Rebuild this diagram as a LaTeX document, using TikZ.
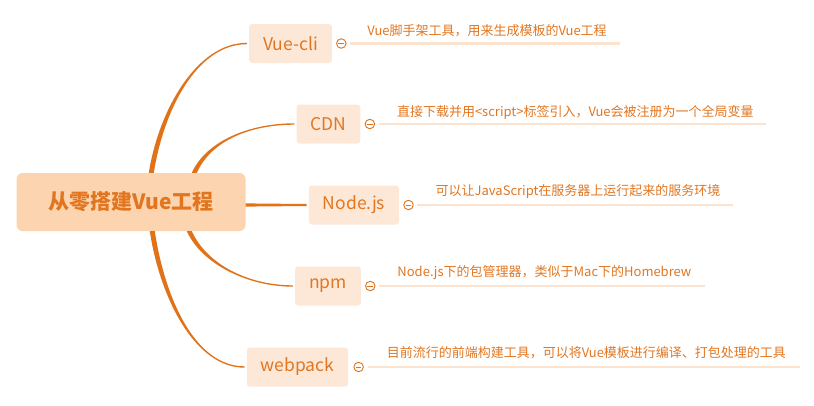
\documentclass[tikz,border=0pt]{standalone}
\usepackage{fontspec}
\setmainfont{Noto Sans CJK SC}
\usepackage{xcolor}
\usepackage{tikz}
\usetikzlibrary{positioning,calc}

\definecolor{mapline}{HTML}{E0731A}
\definecolor{maptext}{HTML}{E27620}
\definecolor{rootfill}{HTML}{FCD5B0}
\definecolor{topicfill}{HTML}{FDE8D8}
\definecolor{notefill}{HTML}{FCE3D0}

\begin{document}
\begin{tikzpicture}[x=1pt, y=-1pt,
  root/.style={fill=rootfill, rounded corners=6pt, minimum width=229pt, minimum height=58pt,
    text=maptext, font=\fontsize{21}{24}\selectfont\bfseries},
  topic/.style={fill=topicfill, rounded corners=3pt, minimum height=39pt, inner xsep=14pt,
    text=maptext, font=\fontsize{17.5}{20}\selectfont},
  fold/.style={circle, draw=mapline, line width=0.9pt, fill=white, minimum size=9.5pt, inner sep=0pt,
    path picture={\draw[mapline, line width=0.9pt] ([xshift=-2.8pt]path picture bounding box.center)
      -- ([xshift=2.8pt]path picture bounding box.center);}},
  note/.style={anchor=west, inner sep=0pt, text=maptext, font=\fontsize{13}{16}\selectfont},
  underline/.style={notefill, line width=2.5pt},
  branch/.style={fill=mapline}]
\useasboundingbox (0,0) rectangle (814,405);

\node[root] (root) at (131,202) {从零搭建Vue工程};

\node[topic] (vuecli) at (290.5,43.5) {Vue-cli};
\node[topic] (cdn) at (328.5,124) {CDN};
\node[topic] (nodejs) at (354,205) {Node.js};
\node[topic] (npm) at (328,286) {npm};
\node[topic] (webpack) at (297.5,367) {webpack};

% branches out of the root
\fill[branch] ([xshift=132.5pt]root.north west) .. controls +(10,-63) and +(-50,0) .. ([shift={(-2pt,0.7pt)}]vuecli.west)
  -- ([shift={(-2pt,-0.7pt)}]vuecli.west) .. controls +(-50,0) and +(10,-63) .. ([xshift=137.5pt]root.north west) -- cycle;
\fill[branch] ([xshift=175.5pt]root.north west) .. controls +(15,-33) and +(-43,0) .. ([shift={(-2pt,0.7pt)}]cdn.west)
  -- ([shift={(-2pt,-0.7pt)}]cdn.west) .. controls +(-43,0) and +(15,-33) .. ([xshift=180.5pt]root.north west) -- cycle;
\fill[branch] ($(root.east |- nodejs.west)+(0,-1.6)$) -- ($(nodejs.west)+(-2,-1)$)
  -- ($(nodejs.west)+(-2,1)$) -- ($(root.east |- nodejs.west)+(0,1.6)$) -- cycle;
\fill[branch] ([xshift=170.5pt]root.south west) .. controls +(15,33) and +(-45,0) .. ([shift={(-2pt,-0.7pt)}]npm.west)
  -- ([shift={(-2pt,0.7pt)}]npm.west) .. controls +(-45,0) and +(15,33) .. ([xshift=175.5pt]root.south west) -- cycle;
\fill[branch] ([xshift=133.5pt]root.south west) .. controls +(10,66) and +(-50,0) .. ([shift={(-2pt,-0.7pt)}]webpack.west)
  -- ([shift={(-2pt,0.7pt)}]webpack.west) .. controls +(-50,0) and +(10,66) .. ([xshift=138.5pt]root.south west) -- cycle;

\node[fold, right=4pt of vuecli] (f1) {};
\node[fold, right=4pt of cdn] (f2) {};
\node[fold, right=4pt of nodejs] (f3) {};
\node[fold, right=4pt of npm] (f4) {};
\node[fold, right=5pt of webpack] (f5) {};

% notes
\node[note] (d1) at ($(f1)+(26,-13)$) {Vue脚手架工具，用来生成模板的Vue工程};
\node[note] (d2) at ($(f2)+(27,-12)$) {直接下载并用<script>标签引入，Vue会被注册为一个全局变量};
\node[note] (d3) at ($(f3)+(27,-14)$) {可以让JavaScript在服务器上运行起来的服务环境};
\node[note] (d4) at ($(f4)+(27,-13)$) {Node.js下的包管理器，类似于Mac下的Homebrew};
\node[note] (d5) at ($(f5)+(28,-14)$) {目前流行的前端构建工具，可以将Vue模板进行编译、打包处理的工具};

\draw[underline] ($(f1)+(9,0)$) -- ($(d1.east |- f1)+(13,0)$);
\draw[underline] ($(f2)+(9,0)$) -- ($(d2.east |- f2)+(12,0)$);
\draw[underline] ($(f3)+(9,0)$) -- ($(d3.east |- f3)+(12,0)$);
\draw[underline] ($(f4)+(9,0)$) -- ($(d4.east |- f4)+(13,0)$);
\draw[underline] ($(f5)+(9,0)$) -- ($(d5.east |- f5)+(14,0)$);
\end{tikzpicture}
\end{document}
